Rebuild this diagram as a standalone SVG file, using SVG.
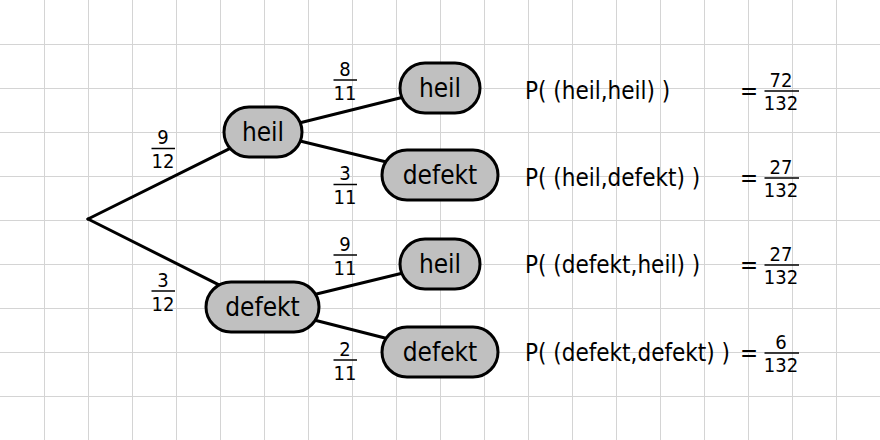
<svg xmlns="http://www.w3.org/2000/svg" width="880" height="440" viewBox="0 0 880 440">
<style>
.grid{stroke:#d4d4d4;stroke-width:1;fill:none}
.edge{stroke:#000;stroke-width:3;fill:none;stroke-linecap:round}
.node rect{fill:#c0c0c0;stroke:#000;stroke-width:3}
.node text{font-family:"DejaVu Sans Condensed","DejaVu Sans",sans-serif;font-stretch:condensed;font-size:26px;fill:#000;text-anchor:middle}
.fr text{font-family:"DejaVu Sans Condensed","DejaVu Sans",sans-serif;font-stretch:condensed;font-size:20px;fill:#000;text-anchor:middle}
.fr line{stroke:#000;stroke-width:1.5}
.res{font-family:"DejaVu Sans Condensed","DejaVu Sans",sans-serif;font-stretch:condensed;font-size:24px;fill:#000}
</style>
<rect width="880" height="440" fill="#fff"/>
<path class="grid" d="M44.5 0V440M88.5 0V440M132.5 0V440M176.5 0V440M220.5 0V440M264.5 0V440M308.5 0V440M352.5 0V440M396.5 0V440M440.5 0V440M484.5 0V440M528.5 0V440M572.5 0V440M616.5 0V440M660.5 0V440M704.5 0V440M748.5 0V440M792.5 0V440M836.5 0V440M0 44.5H880M0 88.5H880M0 132.5H880M0 176.5H880M0 220.5H880M0 264.5H880M0 308.5H880M0 352.5H880M0 396.5H880"/>
<g id="connectors">
<line class="edge" x1="88" y1="219" x2="263" y2="132"/>
<line class="edge" x1="88" y1="219" x2="263" y2="307"/>
<line class="edge" x1="263" y1="132" x2="440" y2="88"/>
<line class="edge" x1="263" y1="132" x2="440" y2="175"/>
<line class="edge" x1="263" y1="307" x2="440" y2="264"/>
<line class="edge" x1="263" y1="307" x2="440" y2="352"/>
</g>
<g id="edge-labels" class="fr">
<text x="163" y="144">9</text><line x1="151.5" y1="148.5" x2="175" y2="148.5"/><text x="163" y="168">12</text>
<text x="163" y="287">3</text><line x1="151.5" y1="291" x2="175" y2="291"/><text x="163" y="311">12</text>
<text x="345" y="76">8</text><line x1="333.5" y1="80" x2="357" y2="80"/><text x="345" y="100">11</text>
<text x="345" y="180">3</text><line x1="333.5" y1="184.5" x2="357" y2="184.5"/><text x="345" y="204">11</text>
<text x="345" y="251">9</text><line x1="333.5" y1="255" x2="357" y2="255"/><text x="345" y="275">11</text>
<text x="345" y="356">2</text><line x1="333.5" y1="360" x2="357" y2="360"/><text x="345" y="380">11</text>
</g>
<g id="n-heil1" class="node"><rect x="224" y="107" width="78" height="50" rx="25"/><text x="263" y="141">heil</text></g>
<g id="n-defekt1" class="node"><rect x="206" y="282" width="113" height="50" rx="25"/><text x="262.5" y="316">defekt</text></g>
<g id="n-heil-heil" class="node"><rect x="400" y="63" width="80" height="50" rx="25"/><text x="440" y="97">heil</text></g>
<g id="n-heil-defekt" class="node"><rect x="382" y="150" width="116" height="50" rx="25"/><text x="440" y="184">defekt</text></g>
<g id="n-defekt-heil" class="node"><rect x="400" y="239" width="80" height="50" rx="25"/><text x="440" y="273">heil</text></g>
<g id="n-defekt-defekt" class="node"><rect x="382" y="327" width="116" height="50" rx="25"/><text x="440" y="361">defekt</text></g>
<g id="results">
<text class="res" x="525" y="99">P( (heil,heil) )</text>
<text class="res" x="740" y="99">=</text>
<g class="fr"><text x="781" y="87">72</text><line x1="764.5" y1="91" x2="799" y2="91"/><text x="781" y="110">132</text></g>
<text class="res" x="525" y="186">P( (heil,defekt) )</text>
<text class="res" x="740" y="186">=</text>
<g class="fr"><text x="781" y="174">27</text><line x1="764.5" y1="178" x2="799" y2="178"/><text x="781" y="197">132</text></g>
<text class="res" x="525" y="273">P( (defekt,heil) )</text>
<text class="res" x="740" y="273">=</text>
<g class="fr"><text x="781" y="261">27</text><line x1="764.5" y1="265" x2="799" y2="265"/><text x="781" y="284">132</text></g>
<text class="res" x="525" y="361">P( (defekt,defekt) )</text>
<text class="res" x="740" y="361">=</text>
<g class="fr"><text x="781" y="349">6</text><line x1="764.5" y1="353" x2="799" y2="353"/><text x="781" y="372">132</text></g>
</g>
</svg>
